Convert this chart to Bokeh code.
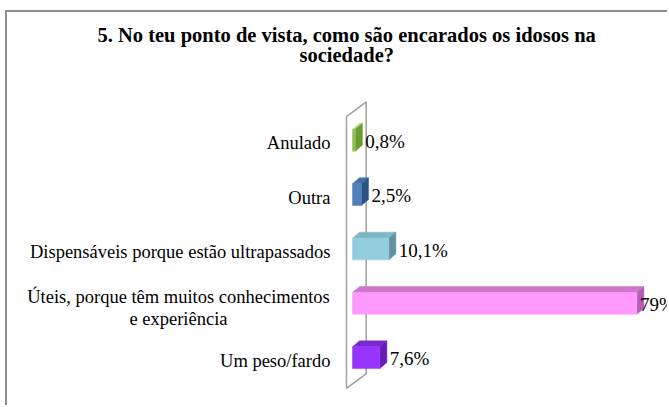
from bokeh.plotting import figure
from bokeh.models import ColumnDataSource, Range1d, FactorRange, Title
from bokeh.core.properties import value
from bokeh.embed import file_html
from bokeh.resources import INLINE

# ---- data ----
categories = [
    "Anulado",
    "Outra",
    "Dispensáveis porque estão ultrapassados",
    "Úteis, porque têm muitos conhecimentos\ne experiência",
    "Um peso/fardo",
]
percent = [0.8, 2.5, 10.1, 79, 7.6]
value_labels = ["0,8%", "2,5%", "10,1%", "79%", "7,6%"]
title_line1 = "5. No teu ponto de vista, como são encarados os idosos na"
title_line2 = "sociedade?"

# ---- styles ----
front_colors = ["#8dc24c", "#4f81bd", "#93cddd", "#ff99ff", "#9933ff"]
top_colors = ["#a9d56e", "#3f6ea8", "#7db7c7", "#cc77cc", "#7a29d0"]
side_colors = ["#6a9a34", "#2f5482", "#62909c", "#b060b0", "#6420b0"]
label_align = ["right", "right", "right", "center", "right"]
label_xoff = [-22, -22, -22, -174, -22]
label_yoff = [3, 3, 3, 5, 3]
value_xoff = [10, 10, 10, 3, 10]

FONT = "Liberation Serif"
TSIZE = "20.5px"
BAR_H = 0.40          # front face height (category units)
DX = 7 / 3.6          # depth in x (data units)
DY = 0.11             # depth in y (category units)

factors = categories[::-1]   # bottom -> top

p = figure(
    x_range=Range1d(-95.83, 88.06),
    y_range=FactorRange(factors=factors, range_padding=0.25, range_padding_units="absolute"),
    width=662, height=395,
    min_border_left=0, min_border_right=0, min_border_top=87, min_border_bottom=9,
    x_axis_type=None, y_axis_type=None,
    output_backend="svg", toolbar_location=None,
    styles={"margin-left": "5px", "margin-top": "10px",
            "border-left": "2px solid #8c8c8c", "border-top": "2px solid #8c8c8c"},
)
p.grid.visible = False
p.outline_line_color = None
p.background_fill_color = "white"
p.border_fill_color = "white"

# title: two centred lines; spacer closest to the plot, then line 2, then line 1 (outermost)
p.title.text = title_line1
p.title.align = "left"
p.title.offset = 90
p.title.text_font = FONT
p.title.text_font_style = "bold"
p.title.text_font_size = TSIZE
p.title.text_color = "black"
p.title.standoff = 0
p.add_layout(Title(text=" ", text_font=FONT, text_font_size=TSIZE, standoff=14), "above")
p.add_layout(Title(text=title_line2, align="left", offset=292, text_font=FONT,
                   text_font_style="bold", text_font_size=TSIZE, text_color="black",
                   standoff=-8), "above")

# ---- back wall (3D axis plane) ----
n = len(categories)
WX, WDX, WDY = -1.67, 19.7 / 3.6, 0.27
y0, y1 = -0.065, n - 0.066
p.patch([WX, WX, WX + WDX, WX + WDX], [y0, y1, y1 + WDY, y0 + WDY],
        fill_color="white", fill_alpha=0.0, line_color="#a6a6a6", line_width=1.6)

# ---- 3D bars ----
yc = [factors.index(c) + 0.5 for c in categories]
top_xs, top_ys, side_xs, side_ys = [], [], [], []
for v, y in zip(percent, yc):
    t = y + BAR_H / 2
    b = y - BAR_H / 2
    top_xs.append([0, v, v + DX, DX])
    top_ys.append([t, t, t + DY, t + DY])
    side_xs.append([v, v + DX, v + DX, v])
    side_ys.append([b, b + DY, t + DY, t])

p.patches(top_xs, top_ys, fill_color=top_colors, line_color=top_colors, line_width=0.5)
p.patches(side_xs, side_ys, fill_color=side_colors, line_color=side_colors, line_width=0.5)

src = ColumnDataSource(dict(cat=categories, val=percent, lab=value_labels, color=front_colors,
                            zero=[0] * n, align=label_align, xoff=label_xoff, yoff=label_yoff,
                            vxoff=value_xoff))
p.hbar(y="cat", left=0, right="val", height=BAR_H, fill_color="color", line_color="color",
       line_width=0.5, source=src)

# value labels
p.text(x="val", y="cat", text="lab", source=src, x_offset="vxoff", y_offset=1,
       text_align="left", text_baseline="middle",
       text_font=value(FONT), text_font_size="19px", text_color="black")

# category labels
p.text(x="zero", y="cat", text="cat", source=src, x_offset="xoff", y_offset="yoff",
       text_align="align", text_baseline="middle", text_line_height=1.1,
       text_font=value(FONT), text_font_size="18.5px", text_color="black")

open("out.html", "w").write(file_html(p, INLINE))
